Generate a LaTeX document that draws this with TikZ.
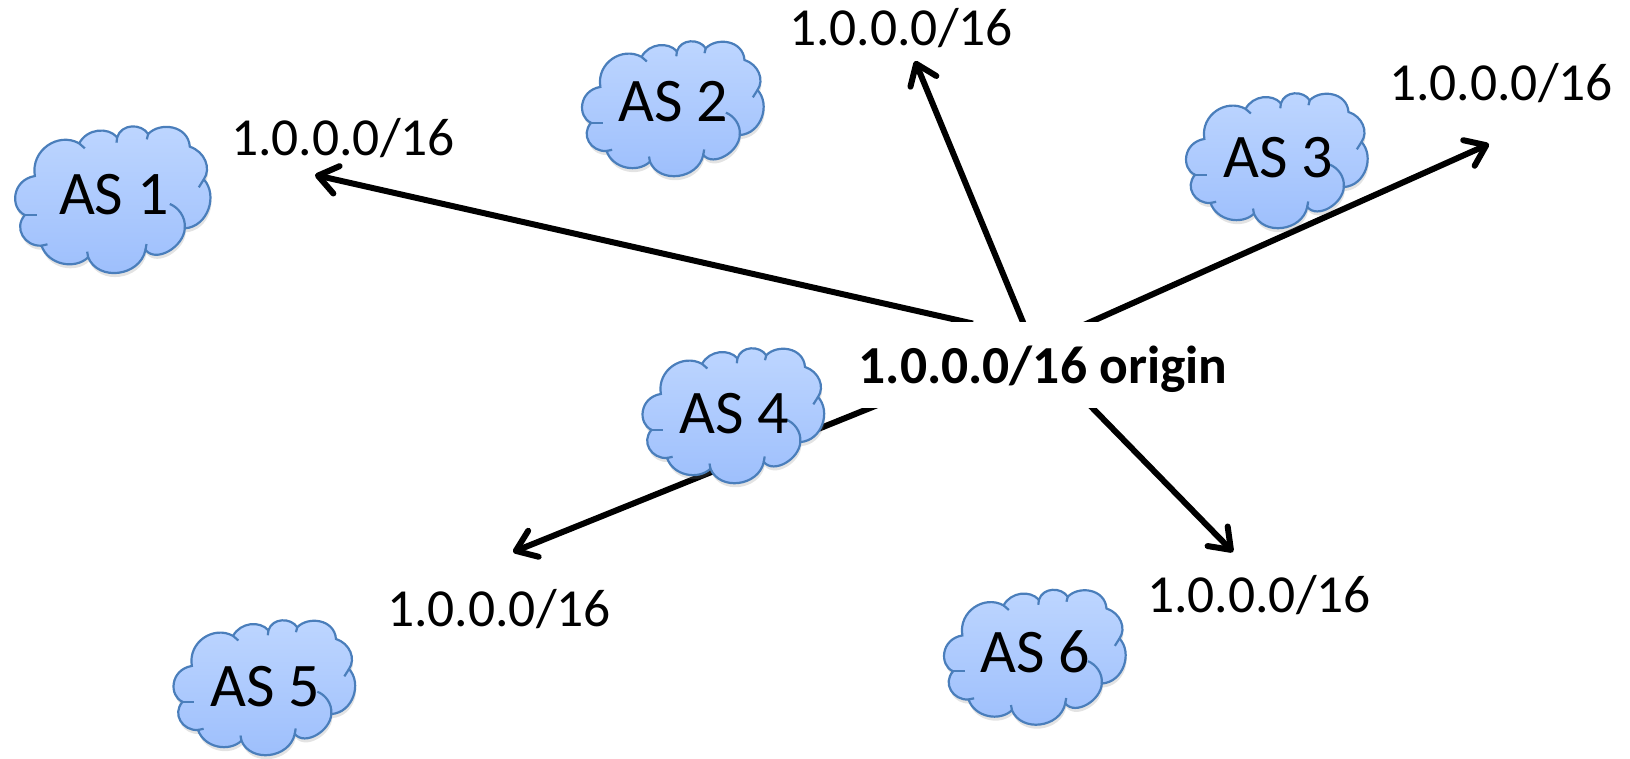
\documentclass[tikz,border=0pt]{standalone}
\usepackage{fontspec}
\setmainfont{Carlito}
\usetikzlibrary{arrows.meta, backgrounds, shadows}
\definecolor{cloudtop}{HTML}{BED6FF}
\definecolor{cloudbottom}{HTML}{9CBEFC}
\definecolor{cloudline}{HTML}{4A7EBB}
\newcommand{\bigfont}{\fontsize{62}{70}\selectfont}
\newcommand{\midfont}{\fontsize{53.5}{60}\selectfont}

\begin{document}
\begin{tikzpicture}[
        x=1pt,
        y=-1pt,
        every node/.style={font=\midfont},
        aslabel/.style={font=\bigfont, anchor=base, inner sep=0pt},
        routelabel/.style={anchor=base, inner sep=0pt},
        originbox/.style={font=\midfont\bfseries, fill=white, inner sep=0pt,
            minimum width=395pt, minimum height=86pt, text height=50pt, text depth=14pt},
        routearrow/.style={->, line width=6pt, shorten <=-8pt,
            >={Straight Barb[length=19pt, width=28pt, round]}},
        ascloud/.pic={
            \begin{scope}[x=0.3333pt, y=-0.3333pt, shift={(-341,-300)},
                    draw=cloudline, line width=2.2pt]
                \path[draw, top color=cloudtop, bottom color=cloudbottom,
                    drop shadow={shadow xshift=1pt, shadow yshift=-4pt, opacity=0.22}]
                    (105,228) .. controls (92,150) and (175,95) .. (238,130)
                    .. controls (262,85) and (325,80) .. (352,112)
                    .. controls (365,70) and (425,70) .. (445,102)
                    .. controls (480,65) and (565,75) .. (570,140)
                    .. controls (615,155) and (635,205) .. (612,238)
                    .. controls (655,285) and (625,380) .. (555,385)
                    .. controls (552,440) and (470,490) .. (437,450)
                    .. controls (420,530) and (295,545) .. (265,472)
                    .. controls (225,510) and (145,495) .. (125,437)
                    .. controls (75,440) and (40,385) .. (75,345)
                    .. controls (30,325) and (35,240) .. (105,228) -- cycle;
                \draw (238,130) -- (255,145);
                \draw (352,112) -- (350,128);
                \draw (445,102) -- (441,118);
                \draw (612,238) -- (597,262);
                \draw (555,385) .. controls (558,350) and (535,322) .. (510,312);
                \draw (437,450) -- (440,432);
                \draw (265,472) -- (262,455);
                \draw (125,437) -- (143,433);
                \draw (75,345) -- (112,345);
            \end{scope}
        }
    ]
    \path[use as bounding box] (0,0) rectangle (1630,758);

    \node[originbox] (origin) at (1043,365) {1.0.0.0/16 origin};

    \coordinate (tip1) at (315,175);
    \coordinate (tip2) at (915,61);
    \coordinate (tip3) at (1489,144);
    \coordinate (tip4) at (513,552);
    \coordinate (tip6) at (1233,552);

    \begin{scope}[on background layer]
        \draw[routearrow] (origin.151.7) -- (tip1);
        \draw[routearrow] (origin.115) -- (tip2);
        \draw[routearrow] (origin.42.5) -- (tip3);
        \draw[routearrow] (origin.194.5) -- (tip4);
        \draw[routearrow] (origin.319.3) -- (tip6);
    \end{scope}

    \pic at (113.5,200) {ascloud};
    \pic[xscale=0.93, yscale=0.92] at (673.5,109) {ascloud};
    \pic[xscale=0.93, yscale=0.92] at (1277.5,161) {ascloud};
    \pic[xscale=0.93, yscale=0.92] at (734,416) {ascloud};
    \pic[xscale=0.93, yscale=0.92] at (265,688) {ascloud};
    \pic[xscale=0.93, yscale=0.92] at (1035.5,657.5) {ascloud};

    \node[aslabel] (as1) at (114,214) {AS 1};
    \node[aslabel] (as2) at (673,121) {AS 2};
    \node[aslabel] (as3) at (1278,177) {AS 3};
    \node[aslabel] (as4) at (734,433) {AS 4};
    \node[aslabel] (as5) at (265,706) {AS 5};
    \node[aslabel] (as6) at (1035,672) {AS 6};

    \node[routelabel] (route1) at (343,155) {1.0.0.0/16};
    \node[routelabel] (route2) at (901,45) {1.0.0.0/16};
    \node[routelabel] (route3) at (1501,100) {1.0.0.0/16};
    \node[routelabel] (route5) at (499,626) {1.0.0.0/16};
    \node[routelabel] (route6) at (1259,612) {1.0.0.0/16};
\end{tikzpicture}
\end{document}
